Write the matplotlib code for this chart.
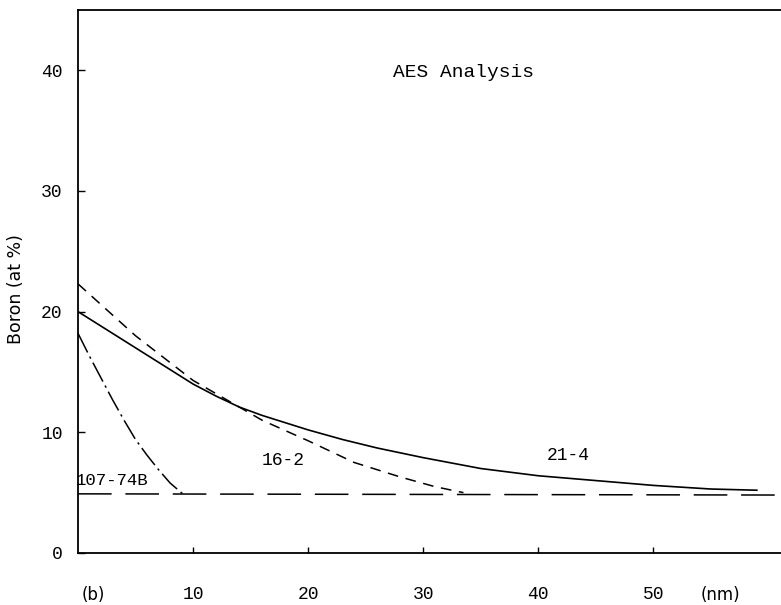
import numpy as np
import matplotlib.pyplot as plt

# depth (nm) vs boron content (at %)
x_214 = [0, 1, 2, 3.5, 5, 7, 9, 10, 12, 14, 16, 18, 20, 23, 26, 30, 35, 40, 45, 50, 55, 59]
y_214 = [20.0, 19.4, 18.8, 17.9, 17.0, 15.8, 14.6, 14.0, 13.0, 12.1, 11.4, 10.8, 10.2, 9.4, 8.7, 7.9, 7.0, 6.4, 6.0, 5.6, 5.3, 5.2]

x_162 = [0, 5, 10, 14, 16, 20, 24, 28, 31, 33.5]
y_162 = [22.3, 18.0, 14.3, 12.1, 11.0, 9.3, 7.5, 6.3, 5.5, 5.0]

x_107 = [0, 1, 2, 3, 4, 5, 6, 7, 8, 9.1]
y_107 = [18.2, 16.3, 14.5, 12.7, 11.0, 9.4, 8.1, 6.9, 5.8, 4.9]

x_base = [0, 61.5]
y_base = [4.9, 4.8]

xticks = [10, 20, 30, 40, 50]
yticks = [0, 10, 20, 30, 40]

mono = 'Liberation Mono'

fig = plt.figure(figsize=(7.81, 6.05), dpi=100)
ax = fig.add_axes([0.0999, 0.086, 0.9001, 0.8975])

ax.plot(x_base, y_base, color='black', lw=1.1, dashes=(22, 9))
ax.plot(x_214, y_214, color='black', lw=1.2)
ax.plot(x_162, y_162, color='black', lw=1.1, dashes=(7, 5))
ax.plot(x_107, y_107, color='black', lw=1.1, dashes=(14, 3, 1.5, 3))

ax.text(33.5, 39.8, 'AES Analysis', family=mono, fontsize=14, ha='center', va='center')
ax.text(-0.2, 6.0, '107-74B', family=mono, fontsize=12.5, ha='left', va='center')
ax.text(17.8, 7.7, '16-2', family=mono, fontsize=13, ha='center', va='center')
ax.text(42.6, 8.1, '21-4', family=mono, fontsize=13, ha='center', va='center')

ax.set_xlim(0, 61.1)
ax.set_ylim(0, 45)
ax.set_xticks(xticks)
ax.set_yticks(yticks)
ax.set_xticklabels([str(t) for t in xticks], family=mono, fontsize=13)
ax.set_yticklabels([str(t) for t in yticks], family=mono, fontsize=13)
ax.tick_params(axis='x', direction='in', length=4, width=1, pad=24)
ax.tick_params(axis='y', direction='in', length=5, width=1, pad=11)

ax.spines['right'].set_visible(False)
for s in ['left', 'top', 'bottom']:
    ax.spines[s].set_linewidth(1.3)

ax.set_ylabel('Boron (at %)', fontsize=12.5)
ax.yaxis.set_label_coords((25 - 78) / 703, (553 - 289) / 543)
fig.text(82 / 781, 1 - 595 / 605, '(b)', fontsize=12, ha='left', va='center')
fig.text(720 / 781, 1 - 595 / 605, '(nm)', fontsize=12, ha='center', va='center')

fig.savefig('out.png', dpi=100)
